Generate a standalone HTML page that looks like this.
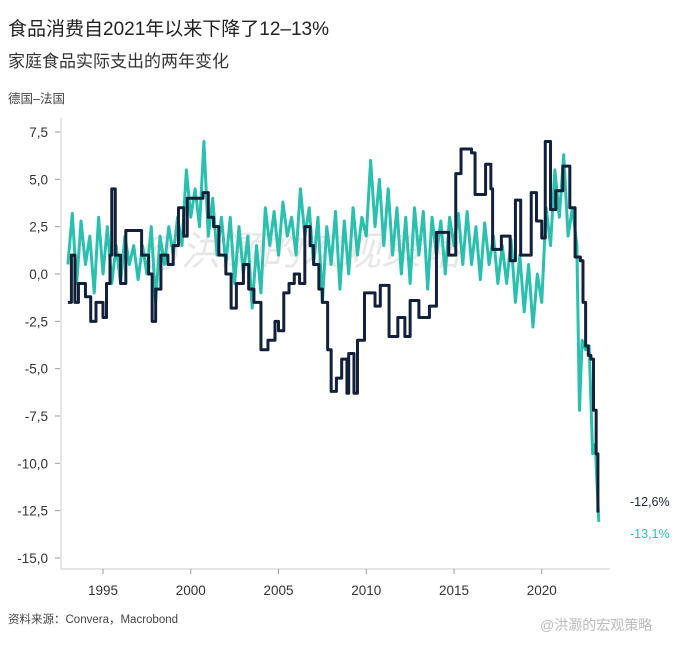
<!DOCTYPE html>
<html><head><meta charset="utf-8"><style>
body{margin:0;background:#fff;width:690px;height:644px;overflow:hidden;font-family:"Liberation Sans","Noto Sans CJK SC",sans-serif}
</style></head><body>
<svg width="690" height="644" xmlns="http://www.w3.org/2000/svg" font-family="Liberation Sans, Noto Sans CJK SC, sans-serif">
<text x="8" y="35" font-size="19" fill="#222">食品消费自2021年以来下降了12–13%</text>
<text x="8" y="67" font-size="17" fill="#333">家庭食品实际支出的两年变化</text>
<text x="8" y="103" font-size="12.5" fill="#444">德国–法国</text>
<text x="140" y="265" font-size="40" fill="#d8d8d8" opacity="0.6" font-style="italic">@洪灏的宏观策略</text>
<g id="axes"></g>
<g id="series"></g>
<text x="630" y="506" font-size="12.5" fill="#1a2435">-12,6%</text>
<text x="630" y="538" font-size="12.5" fill="#2bbfae">-13,1%</text>
<text x="8" y="623" font-size="11.5" fill="#444">资料来源：Convera，Macrobond</text>
<text x="540" y="630" font-size="14" fill="#bbb">@洪灏的宏观策略</text>
</svg>
<script>
const yTicks=[7.5,5,2.5,0,-2.5,-5,-7.5,-10,-12.5,-15];
const yTickLabels=["7,5","5,0","2,5","0,0","-2,5","-5,0","-7,5","-10,0","-12,5","-15,0"];
const xTicks=[1995,2000,2005,2010,2015,2020];
const darkYears=[1993.0,1993.2,1993.4,1993.6,1994.0,1994.3,1994.6,1995.0,1995.2,1995.4,1995.5,1995.7,1996.0,1996.3,1996.8,1997.2,1997.6,1997.8,1998.0,1998.3,1998.7,1999.0,1999.3,1999.6,1999.8,2000.2,2000.7,2001.0,2001.3,2001.6,2002.0,2002.3,2002.6,2003.0,2003.3,2003.6,2004.0,2004.4,2004.8,2005.0,2005.3,2005.6,2005.9,2006.2,2006.5,2006.8,2007.0,2007.3,2007.5,2007.8,2008.0,2008.3,2008.6,2008.9,2009.0,2009.3,2009.5,2009.9,2010.5,2010.8,2011.3,2011.8,2012.2,2012.5,2013.0,2013.6,2014.0,2014.7,2015.1,2015.4,2016.0,2016.2,2016.8,2017.1,2017.2,2017.7,2018.2,2018.5,2018.8,2019.1,2019.4,2019.7,2020.0,2020.2,2020.5,2020.8,2021.2,2021.6,2021.9,2022.2,2022.35,2022.5,2022.65,2022.8,2022.95,2023.1,2023.2];
const darkValues=[-1.5,1.0,-1.5,-0.5,-1.2,-2.5,-1.5,-2.3,-0.5,1.0,4.5,1.0,-0.5,2.3,2.3,1.0,0.0,-2.5,-0.8,1.0,0.5,1.5,3.5,2.0,4.0,4.0,4.3,3.0,2.5,1.0,0.0,-1.8,-0.5,0.5,-0.8,-1.5,-4.0,-3.5,-2.5,-3.0,-1.0,-0.5,0.0,-0.5,2.5,1.5,0.5,-0.8,-1.5,-4.0,-6.2,-5.5,-4.5,-6.3,-4.2,-6.3,-3.5,-1.0,-1.7,-0.6,-3.3,-2.3,-3.3,-1.4,-2.3,-1.7,2.2,1.0,5.3,6.6,6.4,4.2,5.8,4.5,1.3,2.0,0.7,3.9,1.0,1.0,4.3,2.8,1.9,7.0,3.4,4.4,5.7,3.5,0.9,0.7,-1.5,-3.8,-4.3,-4.5,-7.2,-9.5,-12.6];
const tealQuarterly=[0.5,3.2,-0.5,2.8, 0.5,2.0,-1.0,3.0, 0.0,2.5,-0.5,1.5, -0.5,2.0,0.5,1.5, -0.3,1.5,0.0,2.5, -1.5,2.0,0.5,2.5, 1.0,3.0,1.5,5.5, 3.0,4.5,2.5,7.0, 2.0,4.0,1.0,3.0, 0.5,3.0,-0.5,2.5, 0.0,2.0,-1.8,1.5, -1.0,3.5,1.5,3.3, 1.0,3.8,2.0,3.0, 1.0,4.5,2.0,3.5, 0.5,3.0,-1.5,2.5, 0.5,3.3,-0.8,2.8, 0.0,3.5,1.0,3.0, 2.0,6.0,2.5,5.0, 1.5,4.5,1.0,3.5, 0.0,3.0,-0.5,3.5, 1.0,3.3,-0.8,3.0, 1.0,2.8,0.0,3.0, 1.5,3.2,0.5,3.3, 0.5,2.5,-0.3,2.7, 0.5,2.0,-0.5,1.5, -0.5,1.8,-1.5,1.0, -2.0,0.5,-2.8,0.0, -1.5,3.5,1.5,5.5, 3.0,6.3,2.0,3.5];
const tealTailYears=[2022.0,2022.15,2022.3,2022.5,2022.7,2022.9,2023.05,2023.25];
const tealTailValues=[1.5,-7.2,-3.5,-4.0,-3.8,-9.5,-9.0,-13.1];

const X=yr=>103+(yr-1995)*17.55;
const Y=v=>274-v*18.93;
const NS="http://www.w3.org/2000/svg";
const axes=document.getElementById('axes'), ser=document.getElementById('series');
function mk(tag,attrs,parent){const e=document.createElementNS(NS,tag);for(const k in attrs)e.setAttribute(k,attrs[k]);parent.appendChild(e);return e;}
let a=mk('line',{x1:61,y1:118,x2:61,y2:569,stroke:'#ddd','stroke-width':1.5},axes);


a=mk('line',{x1:61,y1:569,x2:610,y2:569,stroke:'#ddd','stroke-width':1.5},axes);


yTicks.forEach((v,i)=>{
  const t=mk('line',{x1:55,x2:60,y1:Y(v),y2:Y(v),stroke:'#999'},axes);
  
  
  const l=mk('text',{x:48,y:Y(v)+5,'text-anchor':'end','font-size':13.5,fill:'#333'},axes);
  l.textContent=yTickLabels[i];
  
  
});
xTicks.forEach(yr=>{
  const t=mk('line',{x1:X(yr),x2:X(yr),y1:569,y2:574,stroke:'#999'},axes);
  
  
  const l=mk('text',{x:X(yr),y:595,'text-anchor':'middle','font-size':13.5,fill:'#333'},axes);
  l.textContent=yr;
  
  
});
let tp=[];
tealQuarterly.forEach((v,i)=>tp.push([X(1993+i*0.25),Y(v)]));
tealTailYears.forEach((yr,i)=>tp.push([X(yr),Y(tealTailValues[i])]));
let p=mk('polyline',{points:tp.map(q=>q.join(',')).join(' '),fill:'none',stroke:'#2bbfae','stroke-width':3,'stroke-linejoin':'round'},ser);


let dp=[];
darkYears.forEach((yr,i)=>{
  if(i>0)dp.push([X(yr),Y(darkValues[i-1])]);
  dp.push([X(yr),Y(darkValues[i])]);
});
p=mk('polyline',{points:dp.map(q=>q.join(',')).join(' '),fill:'none',stroke:'#13203a','stroke-width':3,'stroke-linejoin':'round'},ser);


</script>
</body></html>
